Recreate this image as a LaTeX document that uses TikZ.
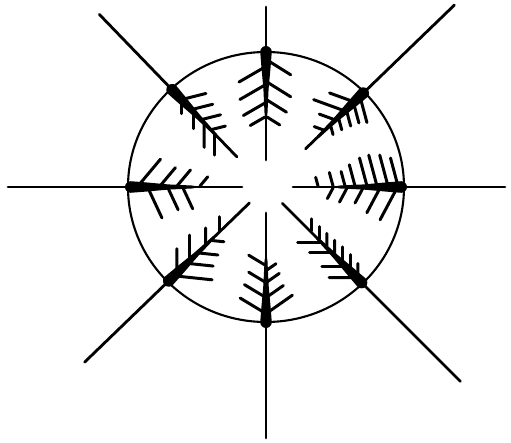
\documentclass[tikz,border=0pt]{standalone}
\usetikzlibrary{calc}
% one ray: angle, inner end, outer end, barb angle left/right, barbs (position/length) left, right
\newcommand{\fishray}[7]{%
  \begin{scope}[shift={(c)}, rotate=#1]
    \draw[spine] (#2,0) -- (#3,0);
    \fill[blob] (142,0) -- (138,6) -- (120,4.6) -- (98,2.6) -- (70,1.3) -- (70,-1.3) -- (98,-2.6) -- (120,-4.6) -- (138,-6) -- cycle;
    \foreach \bs/\bl in {#6}
      \draw[barb] (\bs,1) -- ++(180-#4:\bl);
    \foreach \bs/\bl in {#7}
      \draw[barb] (\bs,-1) -- ++(180+#5:\bl);
  \end{scope}}
\begin{document}
\begin{tikzpicture}[x=0.02cm, y=0.02cm,
  rim/.style={line width=1.2pt},
  spine/.style={line width=1.6pt, line cap=round},
  barb/.style={line width=1.7pt, line cap=round},
  blob/.style={fill=black, rounded corners=1.5pt}
]
\useasboundingbox (-266,-256) rectangle (245,187);
\coordinate (c) at (0,0);
\draw[rim] (c) ellipse [x radius=138, y radius=135];

\fishray{90}{27}{180}{60}{58}{120/30,102/29,84/25,70/17}{127/28,105/28,87/23,70/15}
\fishray{44}{55}{262}{64}{61}{122/25,109/32,96/16,81/10}{130/26,121/20,111/16,100/12,89/9}
\fishray{0}{27}{239}{75}{62}{132/29,122/32,111/32,101/29,89/22,79/15,67/14,52/9}{131/36,114/28,97/17,81/16,67/12}
\fishray{-45}{23}{275}{45}{45}{129/14,118/15,107/15,96/14,85/13,74/12,63/12}{127/26,111/22,91/20,77/22}
\fishray{270}{26}{251}{55}{59}{126/31,110/20,95/15,83/11}{126/29,110/24,95/19,78/19}
\fishray{224}{23}{252}{50}{46}{127/37,109/25,94/19,76/12}{123/23,105/24,83/16,64/14}
\fishray{180}{24}{258}{65}{50}{118/33,98/24,83/23}{128/35,106/24,89/21,66/12}
\fishray{134}{42}{240}{44}{60}{121/13,103/15,88/23,73/20}{121/24,107/21,93/19,79/14}
\end{tikzpicture}
\end{document}
